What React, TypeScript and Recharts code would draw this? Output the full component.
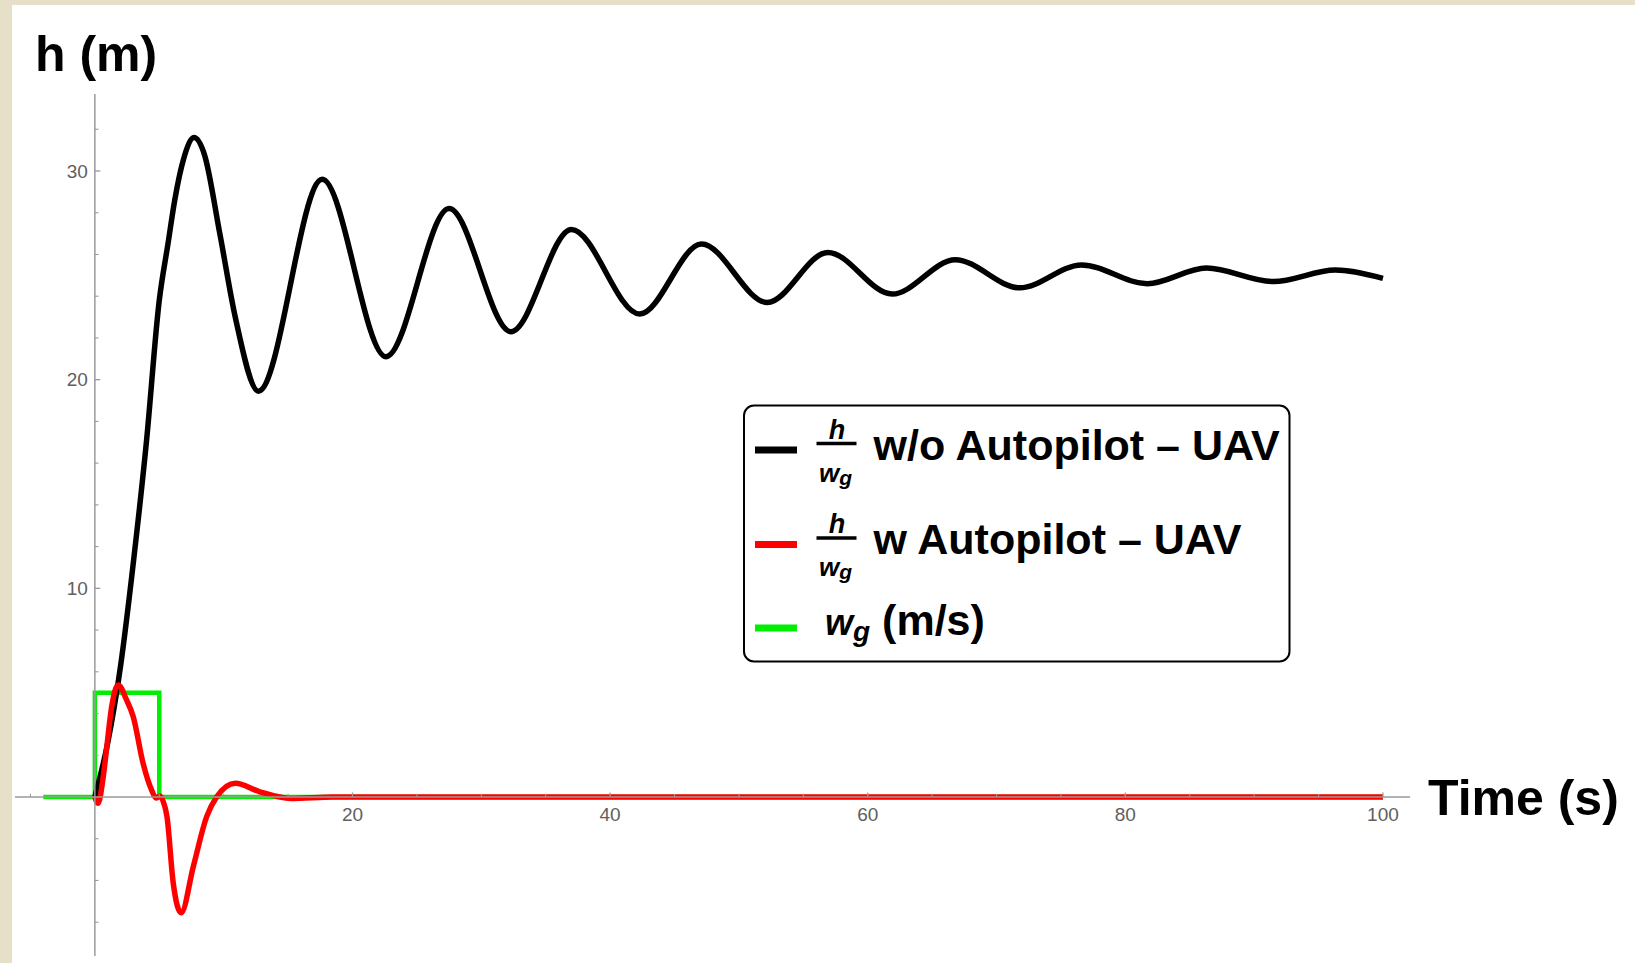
import React from 'react';
import { LineChart, Line, XAxis, YAxis, ReferenceLine } from 'recharts';

// h / w_g without autopilot (black)
const T_NO_AP = [0, 1, 2, 3, 4, 5, 5.7, 6.2, 6.9, 7.7, 8.5, 9.7, 10.9, 12.7, 17.65, 22.6, 27.5, 32.3, 37.0, 42.3, 47.1, 52.2, 56.9, 61.9, 66.8, 71.8, 76.6, 81.7, 86.3, 91.5, 96.3, 100];
const H_NO_AP = [0, 2.6, 6.3, 11.3, 17.0, 23.8, 26.6, 28.6, 30.6, 31.6, 30.8, 27.0, 23.0, 19.45, 29.6, 21.1, 28.2, 22.3, 27.2, 23.15, 26.5, 23.7, 26.1, 24.1, 25.75, 24.4, 25.5, 24.6, 25.35, 24.7, 25.25, 24.85];

// h / w_g with autopilot (red)
const T_AP = [0, 0.25, 0.65, 0.9, 1.3, 1.81, 2.46, 2.98, 3.75, 4.4, 4.75, 5.05, 5.3, 5.6, 6.08, 6.7, 7.64, 8.68, 9.45, 10.9, 12.8, 15.2, 18.5, 100];
const H_AP = [0, -0.3, 0.97, 2.25, 4.3, 5.37, 4.65, 3.85, 1.6, 0.34, -0.05, 0.05, -0.2, -0.94, -4.1, -5.55, -3.34, -0.94, 0, 0.66, 0.25, -0.07, 0, 0];

// gust input w_g (green)
const T_GUST = [-4, 0, 0, 5, 5, 100];
const W_GUST = [0, 0, 5, 5, 0, 0];

const X_MAJOR = [20, 40, 60, 80, 100];
const X_MINOR = [-5, 5, 10, 15, 25, 30, 35, 45, 50, 55, 65, 70, 75, 85, 90, 95];
const Y_MAJOR = [10, 20, 30];
const Y_MINOR = [-6, -4, -2, 2, 4, 6, 8, 12, 14, 16, 18, 22, 24, 26, 28, 32];

const C_NO_AP = '#000000';
const C_AP = '#ff0000';
const C_GUST = '#00ee00';
const AXIS = '#9a9a9a';
const TICK_TEXT = '#606060';
const FONT = '"Liberation Sans", Arial, sans-serif';

const toData = (ts: number[], vs: number[]) => ts.map((t, i) => ({ t, v: vs[i] }));

const noApData = toData(T_NO_AP, H_NO_AP);
const apData = toData(T_AP, H_AP);
const gustData = toData(T_GUST, W_GUST);

function Fraction({ y }: { y: number }) {
  return (
    <g fontFamily={FONT} fontWeight="bold" fontStyle="italic" fill="#000">
      <text x={837} y={y - 5} fontSize={27} textAnchor="middle">h</text>
      <line x1={816.5} x2={856.5} y1={y} y2={y} stroke="#000" strokeWidth={3.5} />
      <text x={819} y={y + 38} fontSize={26}>
        w<tspan dy={3} fontSize={21}>g</tspan>
      </text>
    </g>
  );
}

function Overlay() {
  return (
    <svg width={1635} height={963} style={{ position: 'absolute', left: 0, top: 0, pointerEvents: 'none' }}>
      <text x={35} y={71} fontFamily={FONT} fontWeight="bold" fontSize={50}>h (m)</text>
      <text x={1428} y={815} fontFamily={FONT} fontWeight="bold" fontSize={50}>Time (s)</text>

      <rect x={744} y={405.5} width={545.5} height={256} rx={10} fill="#fff" stroke="#000" strokeWidth={2} />

      <line x1={755} x2={797} y1={450} y2={450} stroke={C_NO_AP} strokeWidth={7} />
      <Fraction y={443.5} />
      <text x={873.5} y={460} fontFamily={FONT} fontWeight="bold" fontSize={43}>w/o Autopilot – UAV</text>

      <line x1={755} x2={797} y1={544.5} y2={544.5} stroke={C_AP} strokeWidth={7} />
      <Fraction y={538} />
      <text x={873.5} y={553.5} fontFamily={FONT} fontWeight="bold" fontSize={43}>w Autopilot – UAV</text>

      <line x1={755} x2={797} y1={628} y2={628} stroke={C_GUST} strokeWidth={7} />
      <text x={825} y={635} fontFamily={FONT} fontWeight="bold" fontSize={36}>
        <tspan fontStyle="italic">w</tspan>
        <tspan fontStyle="italic" fontSize={28} dy={6}>g</tspan>
        <tspan fontSize={43} dy={-6}> (m/s)</tspan>
      </text>
    </svg>
  );
}

export default function App() {
  return (
    <div style={{ position: 'absolute', left: 0, top: 0, width: 1635, height: 963, background: '#e6e0c9' }}>
      <div style={{ position: 'absolute', left: 12, top: 5, right: 0, bottom: 0, background: '#ffffff' }} />
      <div style={{ position: 'absolute', left: 0, top: 0 }}>
        <LineChart width={1635} height={963} margin={{ top: 94, right: 225, bottom: 7, left: 15 }}>
          <XAxis dataKey="t" type="number" domain={[-6.2, 102.1]} allowDataOverflow hide />
          <YAxis type="number" domain={[-7.62, 33.69]} allowDataOverflow hide />

          <Line data={gustData} dataKey="v" type="linear" stroke={C_GUST} strokeWidth={4.5}
            dot={false} activeDot={false} isAnimationActive={false} />
          <Line data={noApData} dataKey="v" type="monotone" stroke={C_NO_AP} strokeWidth={5.5}
            dot={false} activeDot={false} isAnimationActive={false} />
          <Line data={apData} dataKey="v" type="monotone" stroke={C_AP} strokeWidth={5.5}
            dot={false} activeDot={false} isAnimationActive={false} />

          <ReferenceLine y={0} stroke={AXIS} strokeWidth={1.5} />
          <ReferenceLine x={0} stroke={AXIS} strokeWidth={1.5} />

          {X_MAJOR.map((t) => (
            <ReferenceLine key={'xM' + t} segment={[{ x: t, y: 0 }, { x: t, y: 0.22 }]} stroke={AXIS} strokeWidth={1.3}
              label={{ value: String(t), position: 'bottom', offset: 11, fill: TICK_TEXT, fontSize: 19, fontFamily: FONT }} />
          ))}
          {X_MINOR.map((t) => (
            <ReferenceLine key={'xm' + t} segment={[{ x: t, y: 0 }, { x: t, y: 0.15 }]} stroke={AXIS} strokeWidth={1.1} />
          ))}
          {Y_MAJOR.map((v) => (
            <ReferenceLine key={'yM' + v} segment={[{ x: 0, y: v }, { x: 0.42, y: v }]} stroke={AXIS} strokeWidth={1.3}
              label={{ value: String(v), position: 'left', offset: 7, fill: TICK_TEXT, fontSize: 19, fontFamily: FONT }} />
          ))}
          {Y_MINOR.map((v) => (
            <ReferenceLine key={'ym' + v} segment={[{ x: 0, y: v }, { x: 0.28, y: v }]} stroke={AXIS} strokeWidth={1.1} />
          ))}
        </LineChart>
      </div>
      <Overlay />
    </div>
  );
}
